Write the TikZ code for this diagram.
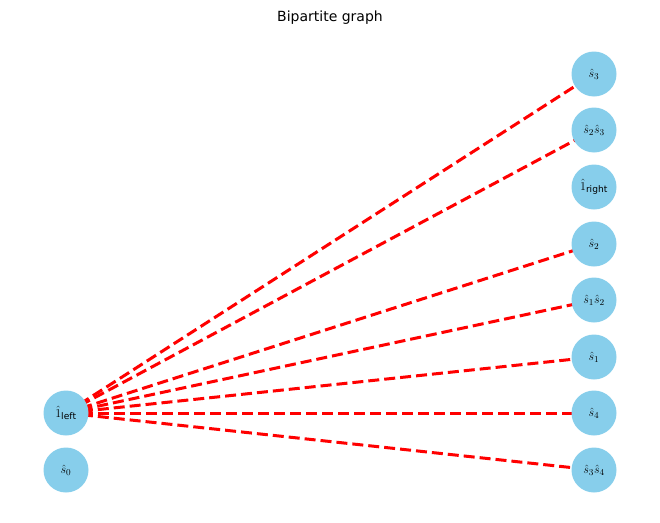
\documentclass[tikz,border=0pt]{standalone}
\usepackage{fontspec}
\setmainfont{DejaVu Sans}
\usetikzlibrary{backgrounds}
\definecolor{skyblue}{HTML}{87CEEB}
\tikzset{vert/.style={circle,fill=skyblue,draw=none,minimum size=45pt,inner sep=0pt,
font=\fontsize{13}{13}\selectfont},
link/.style={red,line width=3pt,dash pattern=on 11pt off 5pt}}
\begin{document}
\begin{tikzpicture}[x=1pt,y=-1pt]
  \useasboundingbox (0,0) rectangle (660,522);
  \node (title) at (330,18) {\fontsize{14}{14}\selectfont Bipartite graph};
  % left side
  \node(Il) [vert] at (66,413) {$\hat{1}_{\mathrm{left}}$};
  \node(S0) [vert] at (66,470) {$\hat{s}_0$};
  % right side
  \node(S3) [vert] at (594,74) {$\hat{s}_3$};
  \node(S2S3) [vert] at (594,130) {$\hat{s}_2\hat{s}_3$};
  \node(Ir) [vert] at (594,187) {$\hat{1}_{\mathrm{right}}$};
  \node(S2) [vert] at (594,244) {$\hat{s}_2$};
  \node(S1S2) [vert] at (594,300) {$\hat{s}_1\hat{s}_2$};
  \node(S1) [vert] at (594,357) {$\hat{s}_1$};
  \node(S4) [vert] at (594,413) {$\hat{s}_4$};
  \node(S3S4) [vert] at (594,470) {$\hat{s}_3\hat{s}_4$};
  \begin{scope}[on background layer]
    \foreach \t in {S3,S2S3,S2,S1S2,S1,S4,S3S4}
      \draw [link] (Il.center) -- (\t.center);
  \end{scope}
\end{tikzpicture}
\end{document}
